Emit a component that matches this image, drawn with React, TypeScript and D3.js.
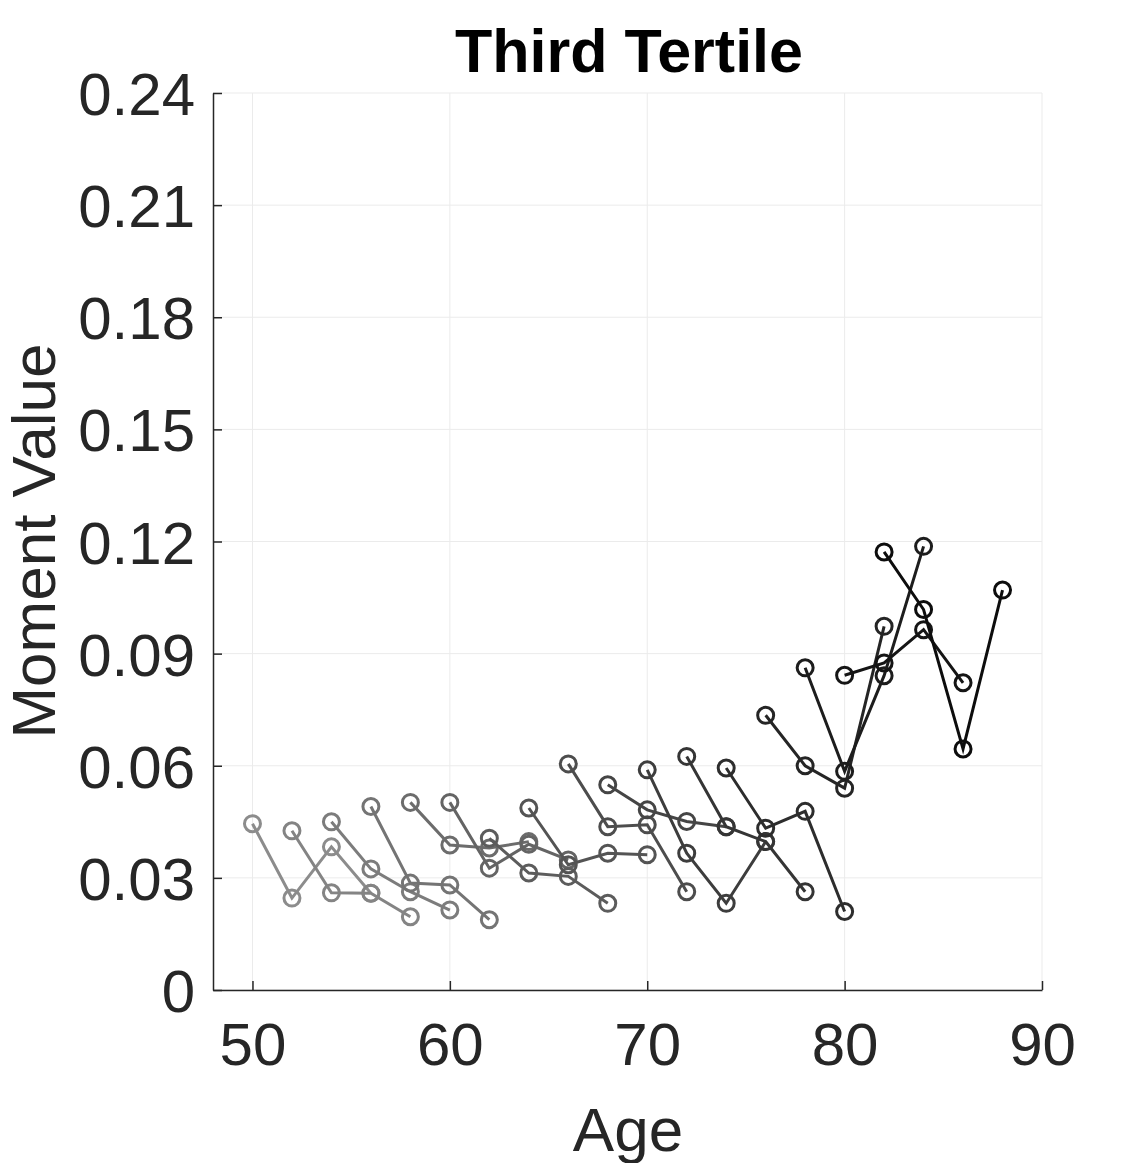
import React, { useEffect, useRef } from 'react';
import * as d3 from 'd3';

// cohort start ages; each cohort is observed at four waves two years apart
const startAges = [50, 52, 54, 56, 58, 60, 62, 64, 66, 68, 70, 72, 74, 76, 78, 80, 82];
const waveOffsets = [0, 2, 4, 6];

const moments = [
  [0.0445, 0.0246, 0.0383, 0.0259],
  [0.0426, 0.026, 0.0259, 0.0196],
  [0.045, 0.0324, 0.0263, 0.0214],
  [0.0491, 0.0286, 0.0281, 0.0188],
  [0.0502, 0.0388, 0.038, 0.0397],
  [0.0502, 0.0326, 0.039, 0.0348],
  [0.0406, 0.0313, 0.0304, 0.0232],
  [0.0487, 0.0335, 0.0366, 0.0362],
  [0.0605, 0.0437, 0.0442, 0.0263],
  [0.0549, 0.0482, 0.0451, 0.0437],
  [0.0589, 0.0366, 0.0232, 0.0397],
  [0.0625, 0.0437, 0.0397, 0.0263],
  [0.0594, 0.0433, 0.0478, 0.021],
  [0.0735, 0.06, 0.054, 0.0973],
  [0.0862, 0.0585, 0.0841, 0.1187],
  [0.0842, 0.0875, 0.0964, 0.0822],
  [0.1172, 0.1018, 0.0645, 0.107],
];

const xTicks = [50, 60, 70, 80, 90];
const yTicks = [0, 0.03, 0.06, 0.09, 0.12, 0.15, 0.18, 0.21, 0.24];

const App: React.FC = () => {
  const svgRef = useRef<SVGSVGElement>(null);

  useEffect(() => {
    if (!svgRef.current) return;
    const svg = d3.select(svgRef.current);
    svg.selectAll('*').remove();

    const width = 1142;
    const height = 1163;
    const margin = { top: 93, right: 100, bottom: 173, left: 213 };
    const font = 'Liberation Sans, Arial, Helvetica, sans-serif';

    const x = d3.scaleLinear().domain([48, 90]).range([margin.left, width - margin.right]);
    const y = d3.scaleLinear().domain([0, 0.24]).range([height - margin.bottom, margin.top]);

    svg.attr('width', width).attr('height', height).attr('viewBox', `0 0 ${width} ${height}`);
    svg.append('rect').attr('width', width).attr('height', height).attr('fill', 'white');

    // Grid
    const grid = svg.append('g').attr('stroke', '#ebebeb').attr('stroke-width', 1);
    grid.selectAll('.gx').data(xTicks).enter().append('line')
      .attr('x1', d => x(d)).attr('x2', d => x(d))
      .attr('y1', y(0)).attr('y2', y(0.24));
    grid.selectAll('.gy').data(yTicks).enter().append('line')
      .attr('x1', x(48)).attr('x2', x(90))
      .attr('y1', d => y(d)).attr('y2', d => y(d));

    // Axes
    const axisColor = '#262626';
    const xAxis = svg.append('g')
      .attr('transform', `translate(0,${y(0)})`)
      .call(d3.axisBottom(x).tickValues(xTicks).tickSizeInner(-9).tickSizeOuter(0).tickPadding(32));
    const yAxis = svg.append('g')
      .attr('transform', `translate(${x(48)},0)`)
      .call(d3.axisLeft(y).tickValues(yTicks).tickSizeInner(-9).tickSizeOuter(0).tickPadding(18)
        .tickFormat(d => (d === 0 ? '0' : d3.format('.2f')(d as number))));
    [xAxis, yAxis].forEach(a => {
      a.select('.domain').attr('stroke', axisColor).attr('stroke-width', 1.5);
      a.selectAll('.tick line').attr('stroke', axisColor).attr('stroke-width', 1.5);
      a.selectAll('.tick text')
        .attr('fill', axisColor)
        .style('font-family', font)
        .style('font-size', '60px');
    });
    xAxis.selectAll('.tick text').attr('dy', '0.71em');
    yAxis.selectAll('.tick text').attr('dy', '0.36em');

    // Series, lighter for younger cohorts
    const shade = d3.scaleLinear().domain([0, startAges.length - 1]).range([0.55, 0.05]);
    const line = d3.line<[number, number]>().x(d => x(d[0])).y(d => y(d[1]));

    startAges.forEach((start, i) => {
      const pts: [number, number][] = moments[i].map((v, j) => [start + waveOffsets[j], v]);
      const g = Math.round(shade(i) * 255);
      const color = `rgb(${g},${g},${g})`;
      const sg = svg.append('g');
      sg.append('path')
        .attr('d', line(pts))
        .attr('fill', 'none')
        .attr('stroke', color)
        .attr('stroke-width', 3);
      sg.selectAll('circle').data(pts).enter().append('circle')
        .attr('cx', d => x(d[0]))
        .attr('cy', d => y(d[1]))
        .attr('r', 8)
        .attr('fill', 'none')
        .attr('stroke', color)
        .attr('stroke-width', 3);
    });

    // Labels
    svg.append('text')
      .attr('x', 629).attr('y', 72)
      .attr('text-anchor', 'middle')
      .style('font-family', font).style('font-size', '61px').style('font-weight', 'bold')
      .attr('fill', '#000')
      .text('Third Tertile');
    svg.append('text')
      .attr('x', 628).attr('y', 1151)
      .attr('text-anchor', 'middle')
      .style('font-family', font).style('font-size', '62px')
      .attr('fill', axisColor)
      .text('Age');
    svg.append('text')
      .attr('transform', `translate(55,541) rotate(-90)`)
      .attr('text-anchor', 'middle')
      .style('font-family', font).style('font-size', '62px')
      .attr('fill', axisColor)
      .text('Moment Value');
  }, []);

  return (
    <div style={{ position: 'absolute', left: 0, top: 0 }}>
      <svg ref={svgRef}></svg>
    </div>
  );
};

export default App;
